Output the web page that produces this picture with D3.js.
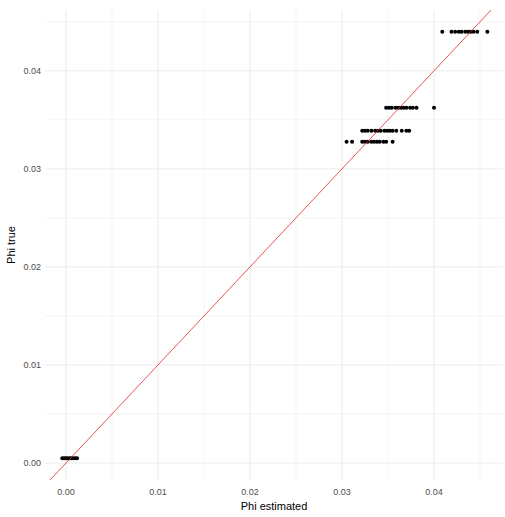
<!DOCTYPE html>
<html>
<head>
<meta charset="utf-8">
<script src="https://cdn.jsdelivr.net/npm/d3@7"></script>
<style>
  body { margin: 0; background: #fff; }
  text { font-family: "Liberation Sans", Arial, sans-serif; }
</style>
</head>
<body>
<script>
// values, one row per true phi level
var phiTrue = [0.0005, 0.03276, 0.03388, 0.03622, 0.04398];
var phiEstimated = [
  [-0.0004, -0.0002, 0.0000, 0.0002, 0.0004, 0.0006, 0.0008, 0.0010, 0.0012],
  [0.0305, 0.0311, 0.0322, 0.0325, 0.0328, 0.0332, 0.0335, 0.0338, 0.0341, 0.0345, 0.0348, 0.0355],
  [0.0322, 0.0325, 0.0328, 0.0332, 0.0336, 0.0339, 0.0342, 0.0346, 0.0349, 0.0352, 0.0355, 0.0359, 0.0365, 0.0370, 0.0373],
  [0.0348, 0.0351, 0.0354, 0.0358, 0.0361, 0.0364, 0.0367, 0.0370, 0.0374, 0.0377, 0.0381, 0.0400],
  [0.0409, 0.0419, 0.0423, 0.0427, 0.0430, 0.0434, 0.0437, 0.0440, 0.0443, 0.0447, 0.0458]
];
var majorTicks = [0, 0.01, 0.02, 0.03, 0.04];
var minorTicks = [0.005, 0.015, 0.025, 0.035, 0.045];

var width = 505, height = 517;
var svg = d3.select("body").append("svg")
    .attr("width", width)
    .attr("height", height);

var x = d3.scaleLinear().domain([-0.00228, 0.0475]).range([45, 503]);
var y = d3.scaleLinear().domain([-0.00173, 0.0462]).range([480, 10]);

var grid = svg.append("g");
// minor grid
grid.selectAll("line.vmin").data(minorTicks.filter(function(d){ return d < x.domain()[1]; }))
  .enter().append("line")
    .attr("x1", function(d){ return x(d); }).attr("x2", function(d){ return x(d); })
    .attr("y1", y.range()[0]).attr("y2", y.range()[1])
    .attr("stroke", "#ebebeb").attr("stroke-width", 0.5);
grid.selectAll("line.hmin").data(minorTicks.filter(function(d){ return d < y.domain()[1]; }))
  .enter().append("line")
    .attr("y1", function(d){ return y(d); }).attr("y2", function(d){ return y(d); })
    .attr("x1", x.range()[0]).attr("x2", x.range()[1])
    .attr("stroke", "#ebebeb").attr("stroke-width", 0.5);
// major grid
grid.selectAll("line.vmaj").data(majorTicks)
  .enter().append("line")
    .attr("x1", function(d){ return x(d); }).attr("x2", function(d){ return x(d); })
    .attr("y1", y.range()[0]).attr("y2", y.range()[1])
    .attr("stroke", "#ebebeb").attr("stroke-width", 1);
grid.selectAll("line.hmaj").data(majorTicks)
  .enter().append("line")
    .attr("y1", function(d){ return y(d); }).attr("y2", function(d){ return y(d); })
    .attr("x1", x.range()[0]).attr("x2", x.range()[1])
    .attr("stroke", "#ebebeb").attr("stroke-width", 1);

// points
var pts = [];
phiTrue.forEach(function(t, i){
  phiEstimated[i].forEach(function(e){ pts.push({est: e, tru: t}); });
});
svg.append("g").selectAll("circle").data(pts)
  .enter().append("circle")
    .attr("cx", function(d){ return x(d.est); })
    .attr("cy", function(d){ return y(d.tru); })
    .attr("r", 2)
    .attr("fill", "#000");

// y = x reference line, clipped to panel
svg.append("clipPath").attr("id", "panel").append("rect")
  .attr("x", 45).attr("y", 10).attr("width", 458).attr("height", 470);
var lo = Math.min(x.domain()[0], y.domain()[0]), hi = Math.max(x.domain()[1], y.domain()[1]);
svg.append("line")
  .attr("clip-path", "url(#panel)")
  .attr("x1", x(lo)).attr("y1", y(lo))
  .attr("x2", x(hi)).attr("y2", y(hi))
  .attr("stroke", "#e8262b").attr("stroke-width", 0.8);

// axis labels
svg.append("g").selectAll("text").data(majorTicks)
  .enter().append("text")
    .attr("x", function(d){ return x(d); })
    .attr("y", 495)
    .attr("text-anchor", "middle")
    .attr("font-size", 9)
    .attr("fill", "#4d4d4d")
    .text(function(d){ return d3.format(".2f")(d); });
svg.append("g").selectAll("text").data(majorTicks)
  .enter().append("text")
    .attr("x", 41)
    .attr("y", function(d){ return y(d) + 3; })
    .attr("text-anchor", "end")
    .attr("font-size", 9)
    .attr("fill", "#4d4d4d")
    .text(function(d){ return d3.format(".2f")(d); });

svg.append("text")
  .attr("x", 274).attr("y", 510)
  .attr("text-anchor", "middle")
  .attr("font-size", 11)
  .attr("fill", "#000")
  .text("Phi estimated");
svg.append("text")
  .attr("transform", "translate(15,245) rotate(-90)")
  .attr("text-anchor", "middle")
  .attr("font-size", 11)
  .attr("fill", "#000")
  .text("Phi true");
</script>
</body>
</html>
